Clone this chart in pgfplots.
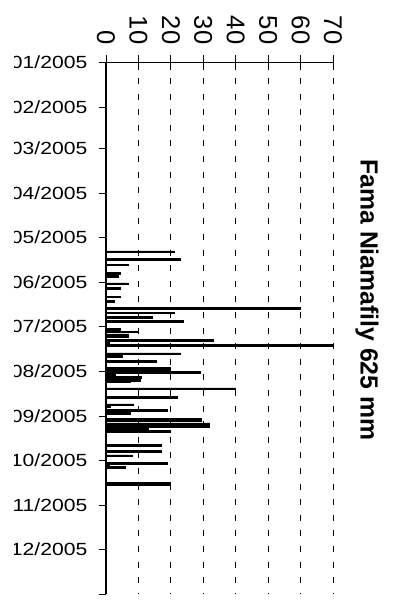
\documentclass[border=0pt]{standalone}
\usepackage{pgfplots}
\pgfplotsset{compat=1.18}
\usepackage{fontspec}
\setmainfont{Liberation Sans}
\newfontfamily\widefont[FakeStretch=1.2]{Liberation Sans}

\begin{document}
\begin{tikzpicture}
\path[use as bounding box] (0pt,0pt) rectangle (197pt,-302pt);
\begin{axis}[
  name=ax,
  at={(53pt,-31.15pt)}, anchor=north west,
  scale only axis, width=113.5pt, height=266pt,
  xbar, bar width=1.2,
  xmin=0, xmax=70, ymin=0, ymax=365,
  y dir=reverse,
  enlargelimits=false, clip=false,
  axis x line*=top, axis y line*=left,
  axis line style={line width=0.6pt},
  xtick={0,10,...,70},
  ytick={0,31,59,90,120,151,181,212,243,273,304,334,365},
  yticklabels={01/2005,02/2005,03/2005,04/2005,05/2005,06/2005,07/2005,08/2005,09/2005,10/2005,11/2005,12/2005,{}},
  tick align=outside, major tick length=3.3pt,
  xtick style={draw=none},
  ytick style={line width=0.5pt, black},
  xmajorgrids,
  grid style={black, line width=0.5pt, dash pattern=on 3pt off 4.8pt},
  /pgf/number format/assume math mode=true,
  xticklabel shift=5.5pt,
  xticklabel style={font=\fontsize{12.8}{14}\selectfont, rotate=-90, anchor=east, inner sep=0pt},
  yticklabel style={font=\widefont\fontsize{8.8}{10}\selectfont, anchor=east, inner sep=0pt, xshift=-5.85pt},
]
\addplot[fill=black, draw=black, line width=0.4pt] coordinates {
  (21,130)(23,135)(7,139)(4.3,145)(3.8,147)(7,152)(4.3,155)(4.3,161)(2.5,164)
  (60,169)(21,172)(14.3,175)(24,178)(4.3,183)(10,185)(7,187)(7,188)(33,191)
  (1.2,193)(70,194)(23,200)(5,202)(15.5,205)(20,210)(20,211)(29,213)(3,215)
  (11,216)(10.5,218)(7.5,219)(40,224)(22,230)(8.6,235)(1.5,236)(19,239)
  (7.4,241)(29.5,245)(29.5,246)(32,248)(32,250)(13,251)(20,253)(17,263)
  (17,267)(8,270)(19,275)(1,277)(6,278)(20,289)(20,290)
};
\end{axis}
\foreach \i in {0,...,7}
  \draw[line width=0.5pt] ([xshift=\i*16.2143pt, yshift=3.75pt]ax.north west) -- ++(0,-7.5pt);
\fill[white] (0pt,0pt) rectangle (7.2pt,-302pt);
\node[rotate=-90, font=\bfseries\fontsize{12.4}{14}\selectfont] at (183.5pt,-150pt) {Fama Niamafily 625 mm};
\end{tikzpicture}
\end{document}
